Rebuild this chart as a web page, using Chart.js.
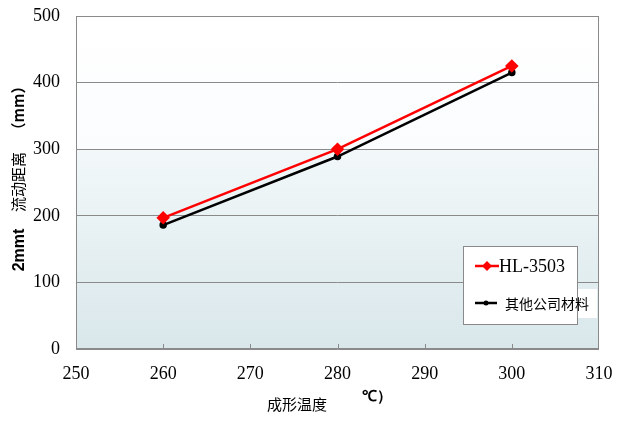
<!DOCTYPE html>
<html>
<head>
<meta charset="utf-8">
<script src="https://cdn.jsdelivr.net/npm/chart.js@4"></script>
<style>
  html, body { margin: 0; padding: 0; background: #fff; }
  #wrap { width: 622px; height: 424px; }
</style>
</head>
<body>
<div id="wrap"><canvas id="myChart" width="622" height="424"></canvas></div>
<script>
const temps = [260, 280, 300];
const hlValues = [197, 300, 425];
const otherValues = [186, 289, 415];
const seriesNames = ['HL-3503', '其他公司材料'];
const xTicks = [250, 260, 270, 280, 290, 300, 310];
const yTicks = [0, 100, 200, 300, 400, 500];

let ctx = document.getElementById('myChart').getContext('2d');

const serif = "'Liberation Serif', 'Times New Roman', serif";
const cjk = "'Noto Sans CJK SC', 'Noto Sans', sans-serif";
const sans = "'Liberation Sans', Arial, sans-serif";

// background, border, inner x ticks, axis titles and legend box
const decor = {
    id: 'decor',
    beforeDraw(chart) {
        const a = chart.chartArea;
        const c = chart.ctx;
        const ys = chart.scales.y;
        const split = ys.getPixelForValue(300);
        c.save();
        let g1 = c.createLinearGradient(0, a.top, 0, split);
        g1.addColorStop(0, '#ffffff');
        g1.addColorStop(1, '#fafcfd');
        c.fillStyle = g1;
        c.fillRect(a.left, a.top, a.width, split - a.top);
        let g2 = c.createLinearGradient(0, split, 0, a.bottom);
        g2.addColorStop(0, '#f2f8f9');
        g2.addColorStop(1, '#d9e7eb');
        c.fillStyle = g2;
        c.fillRect(a.left, split, a.width, a.bottom - split);
        c.restore();
    },
    afterDraw(chart) {
        const a = chart.chartArea;
        const c = chart.ctx;
        const xs = chart.scales.x;
        c.save();
        // frame
        c.strokeStyle = '#8a8a8a';
        c.lineWidth = 1;
        c.strokeRect(a.left + 0.5, a.top + 0.5, a.width - 1, a.height - 1);
        // inner tick marks
        c.beginPath();
        xTicks.slice(1, -1).forEach(v => {
            const px = Math.round(xs.getPixelForValue(v)) + 0.5;
            c.moveTo(px, a.bottom);
            c.lineTo(px, a.bottom - 5);
        });
        c.stroke();

        // y title, drawn in three pieces
        c.fillStyle = '#000';
        c.save();
        c.translate(18, 0);
        c.rotate(-Math.PI / 2);
        c.textAlign = 'center';
        c.textBaseline = 'middle';
        c.font = 'bold 16px ' + sans;
        c.fillText('2mmt', -250, 2);
        c.font = '15px ' + cjk;
        c.fillText('流动距离', -182, 0);
        c.font = 'bold 15px ' + cjk;
        c.fillText('（mm）', -108, 0);
        c.restore();

        // x title
        c.textBaseline = 'middle';
        c.textAlign = 'left';
        c.font = '15px ' + cjk;
        c.fillText('成形温度', 267, 404);
        c.font = 'bold 15px ' + sans;
        c.fillText('℃）', 362, 397);

        // legend
        c.fillStyle = '#ffffff';
        c.fillRect(463, 246, 114, 78);
        c.fillRect(577, 289, 20, 29);
        c.strokeStyle = '#8a8a8a';
        c.strokeRect(463.5, 246.5, 114, 78);
        const rows = [
            { y: 266, x0: 475, x1: 499, color: '#ff0000', style: 'rectRot', r: 5, font: '18px ' + serif, tx: 499 },
            { y: 303, x0: 475, x1: 497, color: '#000000', style: 'circle', r: 2.5, font: '14px ' + cjk, tx: 505 }
        ];
        rows.forEach((row, i) => {
            const cx = (row.x0 + row.x1) / 2;
            c.strokeStyle = row.color;
            c.lineWidth = 2.5;
            c.beginPath();
            c.moveTo(row.x0, row.y);
            c.lineTo(row.x1, row.y);
            c.stroke();
            c.fillStyle = row.color;
            c.beginPath();
            if (row.style === 'circle') {
                c.arc(cx, row.y, row.r, 0, Math.PI * 2);
            } else {
                c.moveTo(cx, row.y - row.r);
                c.lineTo(cx + row.r, row.y);
                c.lineTo(cx, row.y + row.r);
                c.lineTo(cx - row.r, row.y);
                c.closePath();
            }
            c.fill();
            c.fillStyle = '#000';
            c.font = row.font;
            c.textAlign = 'left';
            c.fillText(seriesNames[i], row.tx, row.y + 1);
        });
        c.restore();
    }
};

new Chart(ctx, {
    type: 'line',
    data: {
        datasets: [{
            label: seriesNames[0],
            data: temps.map((t, i) => ({ x: t, y: hlValues[i] })),
            borderColor: '#ff0000',
            backgroundColor: '#ff0000',
            borderWidth: 2.5,
            pointStyle: 'rectRot',
            pointRadius: 5,
            pointHoverRadius: 5
        }, {
            label: seriesNames[1],
            data: temps.map((t, i) => ({ x: t, y: otherValues[i] })),
            borderColor: '#000000',
            backgroundColor: '#000000',
            borderWidth: 2.5,
            pointStyle: 'circle',
            pointRadius: 2.5,
            pointHoverRadius: 2.5
        }]
    },
    options: {
        responsive: false,
        animation: false,
        layout: { padding: { left: 0, right: 23, top: 16, bottom: 0 } },
        plugins: {
            legend: { display: false },
            tooltip: { enabled: false }
        },
        scales: {
            x: {
                type: 'linear',
                min: 250,
                max: 310,
                afterBuildTicks: s => { s.ticks = xTicks.map(v => ({ value: v })); },
                afterFit: s => { s.height = 75; },
                grid: { display: false },
                border: { display: false },
                ticks: {
                    color: '#000',
                    padding: 6,
                    maxRotation: 0,
                    font: { family: serif, size: 18 }
                }
            },
            y: {
                min: 0,
                max: 500,
                afterBuildTicks: s => { s.ticks = yTicks.map(v => ({ value: v })); },
                afterFit: s => { s.width = 76; s.paddingTop = 0; s.paddingBottom = 0; },
                grid: {
                    color: '#8a8a8a',
                    lineWidth: 1,
                    drawTicks: false
                },
                border: { display: false },
                ticks: {
                    color: '#000',
                    padding: 16,
                    font: { family: serif, size: 18 }
                }
            }
        }
    },
    plugins: [decor]
});
</script>
</body>
</html>
